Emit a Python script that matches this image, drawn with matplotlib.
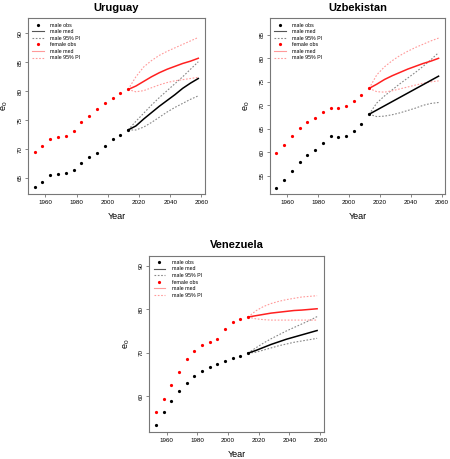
import matplotlib
matplotlib.use("Agg")
import matplotlib.pyplot as plt
from matplotlib.lines import Line2D

plt.rcParams['font.family'] = ['Liberation Sans', 'DejaVu Sans']

obs_years = [1953, 1958, 1963, 1968, 1973, 1978, 1983, 1988, 1993, 1998, 2003, 2008, 2013]
proj_years = [2013, 2018, 2023, 2028, 2033, 2038, 2043, 2048, 2053, 2058]

# Uruguay
uy_male_obs = [63.4, 64.3, 65.5, 65.6, 65.8, 66.4, 67.6, 68.7, 69.3, 70.5, 71.7, 72.5, 73.3]
uy_female_obs = [69.5, 70.6, 71.7, 72.0, 72.3, 73.2, 74.6, 75.8, 76.9, 77.9, 78.9, 79.7, 80.3]
uy_male_med = [73.3, 74.0, 75.2, 76.3, 77.4, 78.4, 79.4, 80.5, 81.4, 82.2]
uy_male_hi = [73.3, 74.8, 76.2, 77.6, 78.9, 80.1, 81.3, 82.5, 83.8, 85.1]
uy_male_lo = [73.3, 73.3, 73.8, 74.6, 75.5, 76.4, 77.2, 77.9, 78.6, 79.2]
uy_female_med = [80.3, 80.9, 81.7, 82.5, 83.2, 83.8, 84.3, 84.8, 85.2, 85.7]
uy_female_hi = [80.3, 82.5, 84.2, 85.3, 86.2, 86.9, 87.5, 88.1, 88.7, 89.3]
uy_female_lo = [80.3, 79.9, 80.1, 80.6, 81.1, 81.5, 81.8, 82.0, 82.2, 82.4]

# Uzbekistan
uz_male_obs = [52.4, 54.2, 56.1, 57.9, 59.4, 60.4, 61.9, 63.5, 63.2, 63.5, 64.5, 66.1, 68.1]
uz_female_obs = [59.9, 61.6, 63.4, 65.1, 66.4, 67.4, 68.5, 69.4, 69.4, 69.9, 71.0, 72.1, 73.6]
uz_male_med = [68.1, 69.0, 69.9, 70.8, 71.7, 72.6, 73.5, 74.4, 75.3, 76.2]
uz_male_hi = [68.1, 70.5, 72.0, 73.3, 74.6, 75.8, 77.0, 78.3, 79.7, 81.2]
uz_male_lo = [68.1, 67.6, 67.7, 68.0, 68.4, 68.9, 69.4, 70.0, 70.4, 70.6]
uz_female_med = [73.6, 74.5, 75.5, 76.3, 77.0, 77.7, 78.3, 78.9, 79.4, 80.0]
uz_female_hi = [73.6, 76.5, 78.2, 79.5, 80.6, 81.5, 82.3, 83.0, 83.7, 84.3]
uz_female_lo = [73.6, 72.9, 72.8, 73.1, 73.5, 73.9, 74.3, 74.7, 75.0, 75.2]

# Venezuela
ve_male_obs = [53.4, 56.3, 58.9, 61.2, 63.1, 64.7, 65.9, 66.7, 67.4, 68.1, 68.8, 69.3, 69.9]
ve_female_obs = [56.3, 59.3, 62.5, 65.5, 68.5, 70.3, 71.7, 72.4, 73.2, 75.4, 77.1, 77.7, 78.2]
ve_male_med = [69.9, 70.5, 71.2, 71.9, 72.5, 73.1, 73.6, 74.1, 74.6, 75.1]
ve_male_hi = [69.9, 71.1, 72.2, 73.2, 74.1, 75.0, 75.8, 76.6, 77.4, 78.3]
ve_male_lo = [69.9, 70.1, 70.6, 71.1, 71.6, 72.0, 72.4, 72.7, 73.0, 73.3]
ve_female_med = [78.2, 78.5, 78.8, 79.1, 79.3, 79.5, 79.7, 79.8, 79.95, 80.1]
ve_female_hi = [78.2, 79.6, 80.6, 81.3, 81.8, 82.2, 82.5, 82.8, 82.95, 83.1]
ve_female_lo = [78.2, 77.8, 77.6, 77.5, 77.5, 77.5, 77.5, 77.5, 77.5, 77.5]

x_ticks = [1960, 1980, 2000, 2020, 2040, 2060]
legend_labels = ["male obs", "male med", "male 95% PI", "female obs", "male med", "male 95% PI"]

panels = [
    dict(title="Uruguay", rect=[0.0622, 0.577, 0.393, 0.383], ylim=(62.2, 92.6), yticks=[65, 70, 75, 80, 85, 90],
         mo=uy_male_obs, fo=uy_female_obs, mm=uy_male_med, mh=uy_male_hi, ml=uy_male_lo,
         fm=uy_female_med, fh=uy_female_hi, fl=uy_female_lo),
    dict(title="Uzbekistan", rect=[0.600, 0.577, 0.389, 0.383], ylim=(51.1, 88.5), yticks=[55, 60, 65, 70, 75, 80, 85],
         mo=uz_male_obs, fo=uz_female_obs, mm=uz_male_med, mh=uz_male_hi, ml=uz_male_lo,
         fm=uz_female_med, fh=uz_female_hi, fl=uz_female_lo),
    dict(title="Venezuela", rect=[0.332, 0.058, 0.387, 0.385], ylim=(51.7, 92.3), yticks=[60, 70, 80, 90],
         mo=ve_male_obs, fo=ve_female_obs, mm=ve_male_med, mh=ve_male_hi, ml=ve_male_lo,
         fm=ve_female_med, fh=ve_female_hi, fl=ve_female_lo),
]

fig = plt.figure(figsize=(4.5, 4.59), dpi=100)
pink = "#ff9a9a"
for p in panels:
    ax = fig.add_axes(p["rect"])
    ax.plot(proj_years, p["mh"], color="#888888", lw=0.8, ls=(0, (1.5, 1.5)))
    ax.plot(proj_years, p["ml"], color="#888888", lw=0.8, ls=(0, (1.5, 1.5)))
    ax.plot(proj_years, p["fh"], color=pink, lw=0.8, ls=(0, (1.5, 1.5)))
    ax.plot(proj_years, p["fl"], color=pink, lw=0.8, ls=(0, (1.5, 1.5)))
    ax.plot(proj_years, p["mm"], color="black", lw=1.1)
    ax.plot(proj_years, p["fm"], color="#ff2020", lw=1.1)
    ax.plot(obs_years, p["mo"], 'o', color="black", ms=2.3, mew=0)
    ax.plot(obs_years, p["fo"], 'o', color="red", ms=2.3, mew=0)
    ax.set_xlim(1948.8, 2062.2)
    ax.set_ylim(*p["ylim"])
    ax.set_xticks(x_ticks)
    ax.set_yticks(p["yticks"])
    ax.tick_params(labelsize=4.5, length=2.5, width=0.5, color="#555555", pad=1.5)
    for lab in ax.get_yticklabels():
        lab.set_rotation(90)
        lab.set_va("center")
    for s in ax.spines.values():
        s.set_color("#777777")
        s.set_linewidth(0.8)
    ax.set_title(p["title"], fontsize=8, fontweight="bold", pad=5.5)
    ax.set_xlabel("Year", fontsize=6.5, labelpad=5)
    ax.set_ylabel(r"$\mathregular{e_0}$", fontsize=6.5, labelpad=5)
    handles = [
        Line2D([], [], marker='o', ls='none', color='black', ms=2.3, mew=0),
        Line2D([], [], color='#555555', lw=0.8),
        Line2D([], [], color='#888888', lw=0.8, ls=(0, (1.5, 1.5))),
        Line2D([], [], marker='o', ls='none', color='red', ms=2.3, mew=0),
        Line2D([], [], color=pink, lw=0.8),
        Line2D([], [], color=pink, lw=0.8, ls=(0, (1.5, 1.5))),
    ]
    ax.legend(handles, legend_labels, loc="upper left", frameon=False, fontsize=3.8,
              handlelength=2.2, labelspacing=0.3, borderaxespad=0.4, handletextpad=1.2)

fig.savefig("out.png", dpi=100)
